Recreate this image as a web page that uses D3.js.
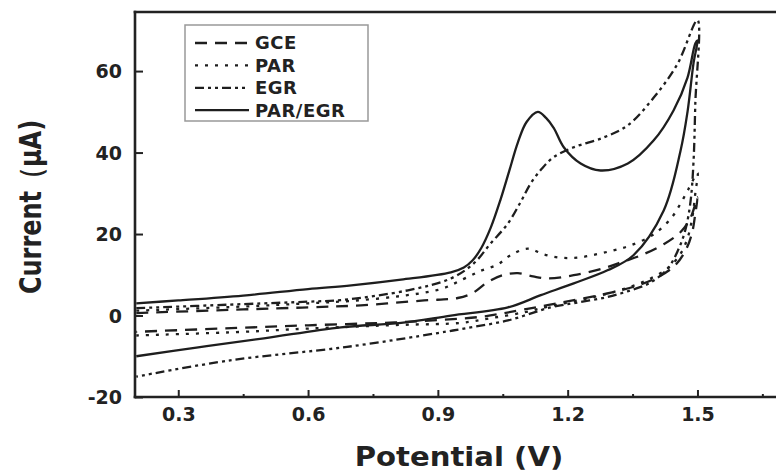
<!DOCTYPE html>
<html>
<head>
<meta charset="utf-8">
<script src="https://cdn.jsdelivr.net/npm/d3@7"></script>
<style>
  html, body { margin: 0; padding: 0; background: #fff; overflow: hidden; }
  svg { display: block; overflow: hidden; }
  text { font-family: "DejaVu Sans", "Liberation Sans", Arial, sans-serif; font-weight: bold; fill: #222; }
</style>
</head>
<body>
<div id="chart"></div>
<script>
// axis ticks
var potentialTicks = [0.3, 0.6, 0.9, 1.2, 1.5];
var potentialMinor = [0.45, 0.75, 1.05, 1.35, 1.65];
var currentTicks = [-20, 0, 20, 40, 60];

// [potential (V), current (uA)], forward scan then reverse scan
var gceForward = [[0.203,0.6],[0.45,1.5],[0.6,2.0],[0.722,2.5],[0.868,3.7],[0.946,4.3],[0.98,5.5],[1.015,8.2],[1.05,9.9],[1.085,10.4],[1.12,9.6],[1.154,9.1],[1.214,9.9],[1.283,11.6],[1.33,13.3],[1.37,14.8],[1.422,17.5],[1.461,20.5],[1.484,24],[1.5,29]];
var gceReverse = [[1.495,25],[1.488,20.5],[1.475,16.5],[1.45,12.5],[1.41,9.5],[1.36,7.3],[1.3,5.6],[1.22,3.9],[1.1,1.5],[1.0,-0.3],[0.9,-1.1],[0.8,-1.7],[0.6,-2.4],[0.45,-3.0],[0.203,-4.0]];

var parForward = [[0.203,1.2],[0.45,2.2],[0.6,3.0],[0.7,3.6],[0.815,4.8],[0.907,6.5],[0.96,9.0],[1.0,11.0],[1.038,12.5],[1.068,14.8],[1.108,16.4],[1.145,15.0],[1.184,14.2],[1.223,14.2],[1.265,15.0],[1.306,16.0],[1.345,17.2],[1.4,20],[1.44,24],[1.461,27.5],[1.479,31],[1.5,35]];
var parReverse = [[1.495,30],[1.488,24],[1.477,19],[1.46,15],[1.43,11.5],[1.38,8.5],[1.32,6.2],[1.25,4.3],[1.16,2.3],[1.1,0.8],[1.02,-0.7],[0.953,-1.8],[0.815,-2.3],[0.6,-3.2],[0.45,-4.0],[0.203,-4.9]];

var egrForward = [[0.203,1.8],[0.45,2.8],[0.6,3.4],[0.676,3.8],[0.831,6.2],[0.93,9.1],[0.983,12.8],[1.022,17.7],[1.062,22.6],[1.092,28],[1.115,32.5],[1.14,36],[1.168,38.9],[1.214,41.3],[1.283,43.7],[1.339,46.7],[1.399,53.5],[1.454,61.8],[1.5,72.5]];
var egrReverse = [[1.495,52],[1.491,38],[1.484,28],[1.472,21],[1.455,16],[1.431,11.5],[1.39,8],[1.34,6],[1.29,4.5],[1.223,3.2],[1.161,2.0],[1.062,-1.2],[0.96,-3.2],[0.9,-4.3],[0.69,-7.7],[0.42,-11],[0.203,-15]];

var parEgrForward = [[0.203,3.0],[0.3,3.7],[0.45,4.9],[0.6,6.5],[0.7,7.4],[0.815,8.8],[0.93,10.6],[0.96,11.8],[0.98,13.5],[1.0,16.5],[1.022,21.5],[1.045,28.5],[1.065,35.5],[1.085,42.5],[1.105,47.5],[1.131,50],[1.15,48.5],[1.168,46],[1.191,41.3],[1.23,37.3],[1.276,35.6],[1.339,37.3],[1.399,43],[1.445,50.4],[1.477,58.4],[1.495,66.8],[1.5,67.5]];
var parEgrReverse = [[1.491,62],[1.477,50],[1.461,40.5],[1.422,25.8],[1.352,14.8],[1.292,11.1],[1.214,7.9],[1.138,5.0],[1.062,2.0],[0.93,0.0],[0.815,-1.8],[0.676,-2.9],[0.498,-5.6],[0.346,-7.8],[0.203,-10]];

var seriesNames = ["GCE", "PAR", "EGR", "PAR/EGR"];
var seriesData = [
  gceForward.concat(gceReverse),
  parForward.concat(parReverse),
  egrForward.concat(egrReverse),
  parEgrForward.concat(parEgrReverse)
];
var seriesDash = ["12,8", "3,7", "9,4,3,4,3,4", null];

var W = 776, H = 473;
var plotLeft = 135, plotRight = 784, plotTop = 12, plotBottom = 397;

var svg = d3.select("#chart").append("svg")
  .attr("width", W)
  .attr("height", H);

var x = d3.scaleLinear().domain([0.2, 1.7]).range([plotLeft, plotRight]);
var y = d3.scaleLinear().domain([-20, 74.5]).range([plotBottom, plotTop]);

var line = d3.line()
  .x(function(d){ return x(d[0]); })
  .y(function(d){ return y(d[1]); })
  .curve(d3.curveCatmullRom.alpha(0.5));

// curves
seriesData.forEach(function(data, i){
  svg.append("path")
    .datum(data)
    .attr("d", line)
    .attr("fill", "none")
    .attr("stroke", "#1e1e1e")
    .attr("stroke-width", 2.3)
    .attr("stroke-linejoin", "round")
    .attr("stroke-dasharray", seriesDash[i]);
});

// axes, ticks inward, no domain line
svg.append("g")
  .attr("transform", "translate(0," + plotBottom + ")")
  .call(d3.axisBottom(x).tickValues(potentialTicks).tickSize(-7).tickSizeOuter(0).tickPadding(11)
    .tickFormat(d3.format(".1f")));
svg.append("g")
  .attr("transform", "translate(0," + plotBottom + ")")
  .call(d3.axisBottom(x).tickValues(potentialMinor).tickSize(-3).tickSizeOuter(0).tickFormat(""));
var yAxis = svg.append("g")
  .attr("transform", "translate(" + plotLeft + ",0)")
  .call(d3.axisLeft(y).tickValues(currentTicks).tickSize(-8).tickSizeOuter(0).tickPadding(13)
    .tickFormat(function(d){ return String(d); }));

svg.selectAll(".domain").remove();
svg.selectAll(".tick line").attr("stroke", "#222").attr("stroke-width", 2);
svg.selectAll(".tick text")
  .style("font-family", "\"DejaVu Sans\", sans-serif")
  .style("font-weight", "bold")
  .style("font-size", "19px")
  .attr("fill", "#222");
yAxis.selectAll(".tick text").attr("dy", "0.36em");

// frame: left, top and bottom only (right edge is off the picture)
var frame = [
  [plotLeft, plotBottom, plotLeft, plotTop],
  [plotLeft, plotTop, W + 5, plotTop],
  [plotLeft, plotBottom, W + 5, plotBottom]
];
frame.forEach(function(f){
  svg.append("line")
    .attr("x1", f[0]).attr("y1", f[1])
    .attr("x2", f[2]).attr("y2", f[3])
    .attr("stroke", "#222")
    .attr("stroke-width", 2.6)
    .attr("stroke-linecap", "square");
});

// axis titles
svg.append("text")
  .attr("transform", "translate(459,466) scale(1.12,1)")
  .attr("text-anchor", "middle")
  .style("font-size", "26px")
  .text("Potential (V)");

svg.append("text")
  .attr("transform", "translate(41,207) scale(1.25,1) rotate(-90)")
  .attr("text-anchor", "middle")
  .style("font-size", "24px")
  .text("Current（μA)");

// legend
var legend = svg.append("g");
legend.append("rect")
  .attr("x", 185).attr("y", 25)
  .attr("width", 183).attr("height", 96)
  .attr("fill", "#fff")
  .attr("stroke", "#999")
  .attr("stroke-width", 1.5);

seriesNames.forEach(function(name, i){
  var ly = 43 + i * 22.4;
  legend.append("line")
    .attr("x1", 195).attr("x2", 249)
    .attr("y1", ly).attr("y2", ly)
    .attr("stroke", "#1e1e1e")
    .attr("stroke-width", 2.3)
    .attr("stroke-dasharray", seriesDash[i]);
  legend.append("text")
    .attr("x", 255).attr("y", ly)
    .attr("dy", "0.36em")
    .style("font-size", "18px")
    .style("letter-spacing", "0.5px")
    .text(name);
});
</script>
</body>
</html>
